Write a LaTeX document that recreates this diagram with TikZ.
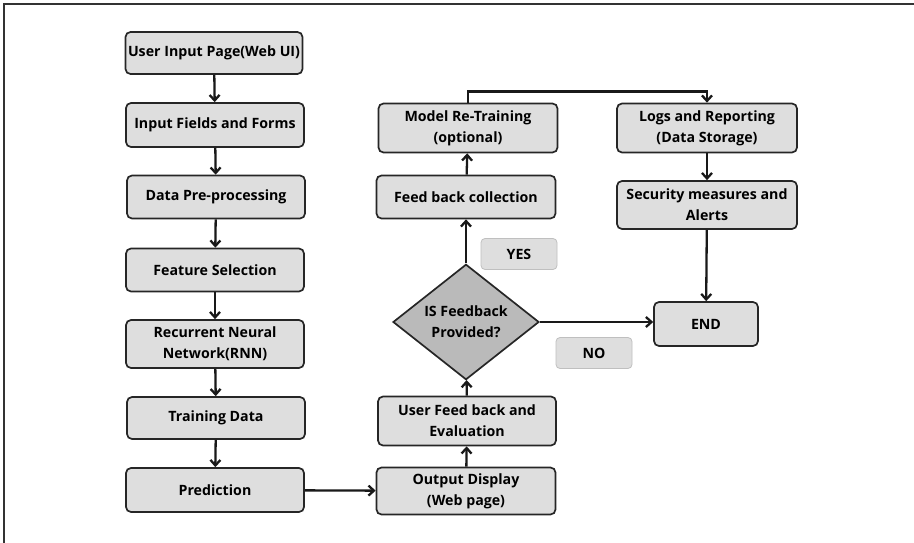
\documentclass[tikz,border=0pt]{standalone}
\usepackage{fontspec}
\setmainfont{Open Sans}
\usetikzlibrary{shapes.geometric,arrows.meta}
\begin{document}
\begin{tikzpicture}[x=1pt,y=-1pt,
  lbl/.style={font=\fontsize{14.2}{21}\selectfont\bfseries},
  box/.style={lbl, draw=black!85, fill=black!13, rounded corners=5pt, line width=1.7pt,
    align=center, inner sep=0pt},
  tag/.style={lbl, draw=black!25, fill=black!13, rounded corners=4pt, line width=0.8pt,
    minimum width=76pt, minimum height=31pt, inner sep=0pt},
  dia/.style={lbl, draw=black!85, fill=black!27, diamond, line width=1.7pt, inner sep=0pt,
    minimum width=146pt, minimum height=102pt, align=center},
  arr/.style={line width=2.3pt, -{Straight Barb[length=5.5pt,width=10pt]}, black!90},
  frame/.style={line width=2pt, black!80}]
\useasboundingbox (0,0) rectangle (914,543);
\draw[frame] (4,543) -- (4,4) -- (914,4);
% left column
\node[box, minimum width=177pt, minimum height=42pt] (uip) at (214,53) {User Input Page(Web UI)};
\node[box, minimum width=178pt, minimum height=44pt] (iff) at (215,125) {Input Fields and Forms};
\node[box, minimum width=178pt, minimum height=43pt] (dpp) at (216,197) {Data Pre-processing};
\node[box, minimum width=178pt, minimum height=43pt] (fs) at (215,270) {Feature Selection};
\node[box, minimum width=178pt, minimum height=48pt] (rnn) at (215,344) {Recurrent Neural\\Network(RNN)};
\node[box, minimum width=178pt, minimum height=42pt] (td) at (216,418) {Training Data};
\node[box, minimum width=178pt, minimum height=44pt] (pred) at (215,490) {Prediction};
% middle column
\node[box, minimum width=179pt, minimum height=47pt] (od) at (466,491) {Output Display\\(Web page)};
\node[box, minimum width=178pt, minimum height=49pt] (ufe) at (467,421) {User Feed back and\\Evaluation};
\node[dia] (isf) at (466,322) {IS Feedback\\Provided?};
\node[box, minimum width=179pt, minimum height=43pt] (fbc) at (466,197) {Feed back collection};
\node[box, minimum width=179pt, minimum height=49pt] (mrt) at (468,128) {Model Re-Training\\(optional)};
% right column
\node[box, minimum width=180pt, minimum height=49pt] (logs) at (707,128) {Logs and Reporting\\(Data Storage)};
\node[box, minimum width=180pt, minimum height=48pt] (sec) at (707,205) {Security measures and\\Alerts};
\node[box, minimum width=104pt, minimum height=44pt] (end) at (706,324) {END};
% tags
\node[tag] (yes) at (519,254) {YES};
\node[tag] (no) at (594,353) {NO};
% arrows
\draw[arr] (uip) -- (iff);
\draw[arr] (iff) -- (dpp);
\draw[arr] (dpp) -- (fs);
\draw[arr] (fs) -- (rnn);
\draw[arr] (rnn) -- (td);
\draw[arr] (td) -- (pred);
\draw[arr] (pred) -- (od);
\draw[arr] (od) -- (ufe);
\draw[arr] (ufe) -- (isf);
\draw[arr] (isf) -- (fbc);
\draw[arr] (fbc) -- (mrt);
\draw[arr] (mrt.north) -- ++(0,-11) -| (logs.north);
\draw[arr] (logs) -- (sec);
\draw[arr] (sec) -- (end);
\draw[arr] (isf.east) -- (end.west |- isf.east);
\end{tikzpicture}
\end{document}
